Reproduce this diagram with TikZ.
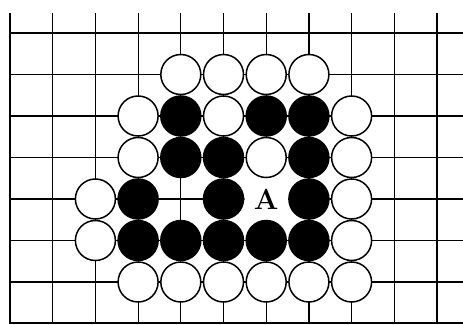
\documentclass[tikz,border=0pt]{standalone}
\usepackage{fontspec}
\begin{document}
\begin{tikzpicture}[x=1pt,y=-1pt,
  gridline/.style={line width=1.2pt},
  edgeline/.style={line width=2pt},
  wstone/.style={circle,draw=black,fill=white,line width=1.5pt,minimum size=40pt,inner sep=0pt},
  bstone/.style={circle,draw=black,fill=black,line width=1.5pt,minimum size=40pt,inner sep=0pt},
  markpt/.style={circle,fill=white,minimum size=43.5pt,inner sep=0pt},
  marklabel/.style={inner sep=0pt,font=\fontsize{29}{29}\selectfont\bfseries}]
\useasboundingbox (0,0) rectangle (463,324);
% grid points
\foreach \i in {0,...,10}{
  \foreach \j in {0,...,7}{
    \coordinate (p-\i-\j) at ({10+42.7*\i},{33+41.5*\j});
  }
}
% vertical lines
\foreach \i in {1,...,10}{
  \draw[gridline] ({10+42.7*\i},13) -- (p-\i-7);
}
\draw[edgeline] (10,13) -- (p-0-7);
% horizontal lines
\foreach \j in {0,...,6}{
  \draw[gridline] (p-0-\j) -- (463,{33+41.5*\j});
}
\draw[edgeline] (9,323) -- (463,323);
% marked point background
\node[markpt] (A) at (p-6-4) {};
% white stones
\foreach \i/\j in {4/1,5/1,6/1,7/1,3/2,5/2,8/2,3/3,6/3,8/3,2/4,8/4,2/5,8/5,3/6,4/6,5/6,6/6,7/6,8/6}{
  \node[wstone] (w-\i-\j) at (p-\i-\j) {};
}
% black stones
\foreach \i/\j in {4/2,6/2,7/2,4/3,5/3,7/3,3/4,5/4,7/4,3/5,4/5,5/5,6/5,7/5}{
  \node[bstone] (b-\i-\j) at (p-\i-\j) {};
}
% marked point label
\node[marklabel] (Alabel) at (p-6-4) {A};
\end{tikzpicture}
\end{document}
